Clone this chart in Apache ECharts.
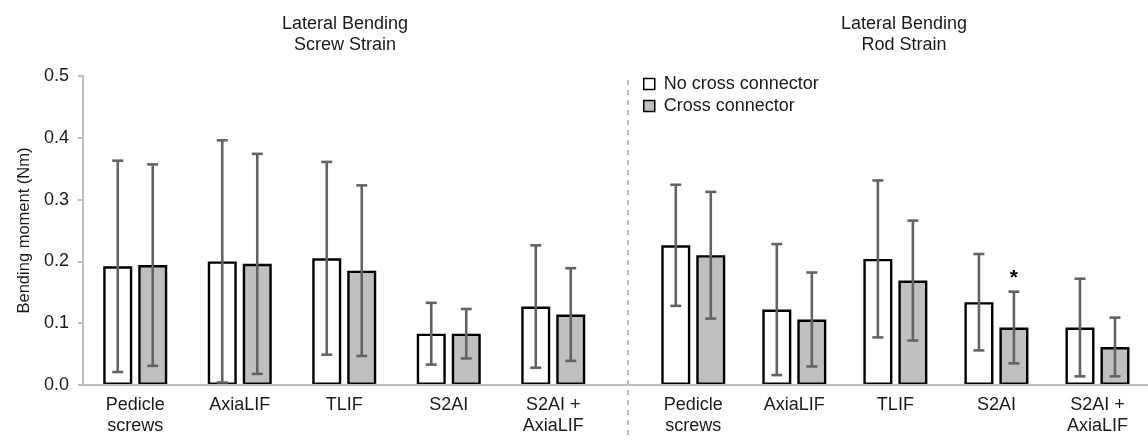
<!DOCTYPE html>
<html><head><meta charset="utf-8">
<script src="https://cdn.jsdelivr.net/npm/echarts@6/dist/echarts.min.js"></script>
<style>html,body{margin:0;padding:0;background:#fff}#c{width:1148px;height:440px}</style>
</head><body><div id="c"></div>
<script>
// ---- data ----
const categories = ['Pedicle\nscrews', 'AxiaLIF', 'TLIF', 'S2AI', 'S2AI +\nAxiaLIF'];
const panelTitles = ['Lateral Bending\nScrew Strain', 'Lateral Bending\nRod Strain'];
const seriesNames = ['No cross connector', 'Cross connector'];
const yAxisName = 'Bending moment (Nm)';
// Screw strain panel (mean, SD)
const screwNoCC   = [0.192, 0.200, 0.205, 0.083, 0.127];
const screwNoCCSd = [0.171, 0.196, 0.156, 0.050, 0.099];
const screwCC     = [0.194, 0.196, 0.185, 0.083, 0.114];
const screwCCSd   = [0.163, 0.178, 0.138, 0.040, 0.075];
// Rod strain panel (mean, SD)
const rodNoCC     = [0.226, 0.122, 0.204, 0.134, 0.093];
const rodNoCCSd   = [0.098, 0.106, 0.127, 0.078, 0.079];
const rodCC       = [0.210, 0.106, 0.169, 0.093, 0.0615];
const rodCCSd     = [0.1025, 0.076, 0.097, 0.058, 0.0475];
const rodCCMarks  = ['', '', '', '*', ''];

// ---- style ----
const FONT = 'Liberation Sans, Arial, Helvetica, sans-serif';
const TXT = '#1a1a1a';
const AXIS_C = '#bfbfbf';
const GREY_FILL = '#bfbfbf';
const ERR_C = '#636363';
const BAR_W = 29;
const BAR_GAP = 6;
const OFFSET = (BAR_W + BAR_GAP) / 2;
const CAP = 11;

const GRID_TOP = 76, GRID_H = 309, BAND = 104.5;

function barSeries(name, idx, data, fill) {
  return {
    type: 'bar', name, xAxisIndex: idx, yAxisIndex: idx, data,
    barWidth: BAR_W, barGap: (BAR_GAP / BAR_W * 100) + '%', z: 2,
    itemStyle: { color: fill, borderColor: '#000', borderWidth: 2.4 },
    emphasis: { disabled: true }
  };
}
function errSeries(idx, means, sds, side, marks) {
  return {
    type: 'custom', name: 'err' + idx + side, xAxisIndex: idx, yAxisIndex: idx, z: 5, silent: true,
    data: means.map((m, i) => [i, m, sds[i]]),
    renderItem(params, api) {
      const i = api.value(0), m = api.value(1), s = api.value(2);
      const x = api.coord([i, m])[0] + side * OFFSET;
      const yT = api.coord([i, m + s])[1];
      const yB = api.coord([i, m - s])[1];
      const st = { stroke: ERR_C, lineWidth: 2.6 };
      const ch = [
        { type: 'line', shape: { x1: x, y1: yT, x2: x, y2: yB }, style: st },
        { type: 'line', shape: { x1: x - CAP / 2, y1: yT, x2: x + CAP / 2, y2: yT }, style: st },
        { type: 'line', shape: { x1: x - CAP / 2, y1: yB, x2: x + CAP / 2, y2: yB }, style: st }
      ];
      const mk = marks ? marks[params.dataIndex] : '';
      if (mk) ch.push({ type: 'text', x: x, y: yT - 13, style: { text: mk, fill: '#000', font: 'bold 21px ' + FONT, align: 'center', verticalAlign: 'middle' } });
      return { type: 'group', children: ch };
    }
  };
}
function catAxis(idx) {
  return {
    type: 'category', gridIndex: idx, data: categories, boundaryGap: true,
    axisLine: { show: false }, axisTick: { show: false },
    axisLabel: { interval: 0, color: TXT, fontFamily: FONT, fontSize: 18, lineHeight: 21, margin: 10 }
  };
}

const chart = echarts.init(document.getElementById('c'), null, { renderer: 'canvas' });
chart.setOption({
  animation: false,
  backgroundColor: '#fff',
  title: panelTitles.map((t, k) => ({
    text: t, left: (k === 0 ? 345 : 904) - 5, top: 9, textAlign: 'center',
    textStyle: { color: TXT, fontFamily: FONT, fontSize: 18, fontWeight: 'normal', lineHeight: 21 }
  })),
  legend: {
    data: seriesNames, orient: 'vertical', left: 643, top: 74, padding: 0,
    icon: 'rect', itemWidth: 11, itemHeight: 11, itemGap: 2,
    itemStyle: { borderColor: '#000', borderWidth: 1.5 },
    textStyle: { color: TXT, fontFamily: FONT, fontSize: 18, lineHeight: 20, padding: [0, 0, 0, 4] },
    selectedMode: false
  },
  grid: [
    { left: 83, top: GRID_TOP, width: BAND * 5, height: GRID_H },
    { left: 695 - BAND / 2, top: GRID_TOP, width: BAND * 5, height: GRID_H },
    { left: 83, top: GRID_TOP, right: 0, height: GRID_H }
  ],
  xAxis: [
    catAxis(0), catAxis(1),
    { type: 'value', gridIndex: 2, min: 0, max: 1, z: 3,
      axisLine: { show: true, lineStyle: { color: AXIS_C, width: 2 } },
      axisTick: { show: false }, axisLabel: { show: false }, splitLine: { show: false } }
  ],
  yAxis: [
    { type: 'value', gridIndex: 0, min: 0, max: 0.5, interval: 0.1,
      name: yAxisName, nameLocation: 'middle', nameGap: 50,
      nameTextStyle: { color: TXT, fontFamily: FONT, fontSize: 16.5 },
      axisLine: { show: true, lineStyle: { color: AXIS_C, width: 2 } },
      axisTick: { show: true, length: 5, lineStyle: { color: AXIS_C, width: 2 } },
      axisLabel: { color: TXT, fontFamily: FONT, fontSize: 18, margin: 14, formatter: v => v.toFixed(1) },
      splitLine: { show: false } },
    { type: 'value', gridIndex: 1, min: 0, max: 0.5, interval: 0.1, show: false, splitLine: { show: false } },
    { type: 'value', gridIndex: 2, min: 0, max: 1, show: false, splitLine: { show: false } }
  ],
  graphic: [
    { type: 'line', silent: true, z: 1, shape: { x1: 628, y1: 80, x2: 628, y2: 440 },
      style: { stroke: '#bdbdbd', lineWidth: 2, lineDash: [5, 5] } }
  ],
  series: [
    barSeries(seriesNames[0], 0, screwNoCC, '#ffffff'),
    barSeries(seriesNames[1], 0, screwCC, GREY_FILL),
    barSeries(seriesNames[0], 1, rodNoCC, '#ffffff'),
    barSeries(seriesNames[1], 1, rodCC, GREY_FILL),
    errSeries(0, screwNoCC, screwNoCCSd, -1),
    errSeries(0, screwCC, screwCCSd, 1),
    errSeries(1, rodNoCC, rodNoCCSd, -1),
    errSeries(1, rodCC, rodCCSd, 1, rodCCMarks)
  ]
});
</script></body></html>
